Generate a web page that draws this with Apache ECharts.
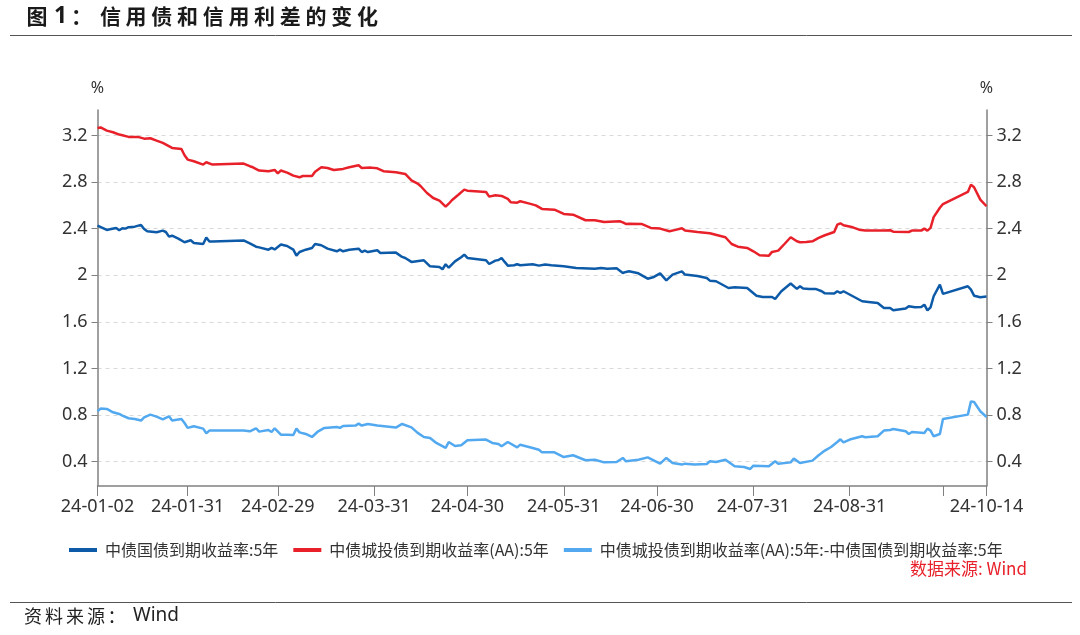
<!DOCTYPE html>
<html><head><meta charset="utf-8">
<script src="https://cdn.jsdelivr.net/npm/echarts@6/dist/echarts.min.js"></script>
<style>html,body{margin:0;padding:0;background:#fff}#c{width:1080px;height:635px}</style>
</head><body><div id="c"></div>
<script>
const year = 2024;
const seriesNames = ['中债国债到期收益率:5年', '中债城投债到期收益率(AA):5年', '中债城投债到期收益率(AA):5年:-中债国债到期收益率:5年'];

const govDates = ['01-02','01-05','01-06','01-08','01-09','01-10','01-11','01-12','01-14','01-16','01-17','01-18','01-21','01-23','01-24','01-25','01-26','01-28','01-30','02-01','02-02','02-05','02-06','02-07','02-08','02-18','02-20','02-22','02-23','02-26','02-27','02-28','03-01','03-03','03-05','03-06','03-07','03-09','03-11','03-12','03-14','03-16','03-19','03-20','03-21','03-23','03-26','03-27','03-28','03-29','04-01','04-02','04-07','04-09','04-10','04-12','04-16','04-18','04-21','04-22','04-23','04-24','04-26','04-28','04-29','04-30','05-06','05-07','05-09','05-10','05-11','05-12','05-13','05-15','05-16','05-17','05-21','05-23','05-25','05-27','05-31','06-04','06-10','06-12','06-14','06-17','06-19','06-20','06-21','06-24','06-27','06-29','07-01','07-03','07-05','07-08','07-09','07-13','07-16','07-17','07-19','07-23','07-25','07-29','08-01','08-03','08-06','08-07','08-09','08-12','08-14','08-15','08-16','08-18','08-20','08-22','08-23','08-26','08-27','08-28','08-29','09-01','09-04','09-06','09-09','09-11','09-13','09-14','09-18','09-19','09-21','09-23','09-24','09-25','09-26','09-27','09-29','09-30','10-08','10-09','10-10','10-12','10-14'];
const govValues = [2.427,2.39,2.395,2.407,2.387,2.404,2.401,2.413,2.418,2.433,2.398,2.378,2.37,2.384,2.372,2.332,2.34,2.315,2.284,2.301,2.278,2.269,2.324,2.29,2.29,2.30,2.275,2.246,2.24,2.22,2.235,2.222,2.264,2.252,2.22,2.169,2.2,2.22,2.235,2.269,2.258,2.229,2.206,2.22,2.206,2.22,2.229,2.2,2.212,2.2,2.215,2.192,2.195,2.158,2.149,2.115,2.129,2.077,2.072,2.052,2.095,2.065,2.12,2.155,2.178,2.149,2.129,2.097,2.126,2.132,2.149,2.115,2.083,2.086,2.095,2.086,2.095,2.083,2.092,2.086,2.077,2.063,2.057,2.063,2.057,2.06,2.02,2.029,2.034,2.017,1.971,1.986,2.017,1.957,2.006,2.034,2.006,1.994,1.977,1.954,1.949,1.891,1.897,1.891,1.825,1.814,1.814,1.797,1.863,1.929,1.883,1.906,1.886,1.883,1.883,1.863,1.845,1.843,1.863,1.848,1.863,1.82,1.777,1.771,1.762,1.719,1.719,1.699,1.714,1.734,1.725,1.728,1.748,1.699,1.725,1.82,1.92,1.84,1.906,1.877,1.825,1.811,1.817];

const cityDates = ['01-02','01-03','01-05','01-07','01-09','01-10','01-12','01-15','01-17','01-19','01-21','01-23','01-26','01-29','01-30','01-31','02-02','02-05','02-06','02-08','02-18','02-20','02-21','02-23','02-26','02-28','02-29','03-01','03-03','03-05','03-07','03-08','03-11','03-12','03-14','03-16','03-18','03-21','03-23','03-26','03-27','03-30','04-01','04-03','04-07','04-10','04-12','04-14','04-15','04-17','04-19','04-21','04-23','04-24','04-25','04-27','04-29','04-30','05-06','05-07','05-09','05-11','05-13','05-14','05-16','05-17','05-20','05-22','05-24','05-28','05-31','06-03','06-07','06-10','06-13','06-18','06-19','06-20','06-21','06-25','06-28','07-01','07-04','07-06','07-08','07-09','07-13','07-17','07-22','07-24','07-26','07-29','07-31','08-02','08-05','08-06','08-08','08-10','08-12','08-14','08-15','08-17','08-19','08-21','08-23','08-26','08-27','08-28','08-29','09-01','09-03','09-05','09-11','09-13','09-14','09-19','09-20','09-23','09-24','09-25','09-26','09-27','09-29','09-30','10-08','10-09','10-10','10-12','10-14'];
const cityValues = [3.266,3.27,3.243,3.229,3.209,3.203,3.189,3.189,3.174,3.177,3.157,3.137,3.094,3.085,3.031,2.994,2.98,2.951,2.971,2.951,2.96,2.937,2.928,2.90,2.894,2.905,2.876,2.90,2.882,2.856,2.842,2.853,2.853,2.89,2.928,2.922,2.905,2.914,2.928,2.945,2.922,2.925,2.919,2.894,2.885,2.871,2.816,2.788,2.765,2.707,2.664,2.642,2.59,2.615,2.645,2.69,2.736,2.727,2.716,2.676,2.687,2.682,2.656,2.627,2.624,2.636,2.616,2.601,2.57,2.564,2.527,2.521,2.473,2.473,2.458,2.464,2.455,2.441,2.443,2.441,2.407,2.401,2.378,2.39,2.404,2.384,2.372,2.361,2.327,2.269,2.246,2.235,2.206,2.172,2.169,2.201,2.212,2.269,2.327,2.292,2.284,2.287,2.292,2.321,2.344,2.372,2.435,2.447,2.43,2.412,2.392,2.384,2.384,2.387,2.375,2.372,2.384,2.384,2.401,2.384,2.407,2.50,2.58,2.612,2.716,2.779,2.756,2.65,2.593];

const spreadDates = ['01-02','01-03','01-05','01-07','01-09','01-10','01-12','01-14','01-16','01-17','01-19','01-21','01-23','01-25','01-26','01-29','01-30','01-31','02-02','02-05','02-06','02-07','02-08','02-18','02-20','02-22','02-23','02-26','02-27','02-28','03-01','03-03','03-05','03-06','03-07','03-09','03-11','03-13','03-15','03-19','03-20','03-21','03-25','03-26','03-27','03-29','04-01','04-07','04-09','04-12','04-14','04-16','04-18','04-20','04-23','04-24','04-26','04-28','04-30','05-06','05-08','05-10','05-11','05-13','05-16','05-17','05-21','05-23','05-24','05-28','05-31','06-03','06-07','06-10','06-13','06-17','06-19','06-20','06-24','06-27','07-01','07-03','07-05','07-08','07-09','07-12','07-16','07-17','07-19','07-22','07-25','07-28','07-30','07-31','08-05','08-07','08-08','08-12','08-13','08-15','08-19','08-21','08-23','08-25','08-27','08-28','08-29','08-31','09-04','09-05','09-09','09-11','09-13','09-14','09-18','09-19','09-20','09-24','09-25','09-26','09-27','09-29','09-30','10-08','10-09','10-10','10-12','10-14'];
const spreadValues = [0.832,0.855,0.852,0.823,0.809,0.795,0.772,0.766,0.752,0.78,0.803,0.786,0.763,0.789,0.752,0.766,0.731,0.689,0.703,0.683,0.643,0.666,0.666,0.666,0.66,0.686,0.657,0.671,0.654,0.686,0.631,0.631,0.628,0.683,0.651,0.637,0.611,0.66,0.689,0.697,0.689,0.706,0.709,0.726,0.709,0.723,0.709,0.692,0.723,0.694,0.646,0.611,0.603,0.56,0.517,0.568,0.534,0.54,0.583,0.589,0.56,0.551,0.531,0.568,0.522,0.545,0.517,0.502,0.479,0.479,0.439,0.454,0.411,0.416,0.393,0.396,0.431,0.402,0.416,0.436,0.382,0.431,0.388,0.374,0.382,0.374,0.379,0.402,0.396,0.416,0.359,0.353,0.336,0.365,0.359,0.402,0.382,0.393,0.425,0.388,0.408,0.454,0.494,0.525,0.568,0.591,0.565,0.589,0.617,0.609,0.617,0.666,0.671,0.68,0.66,0.637,0.654,0.646,0.683,0.666,0.617,0.637,0.766,0.803,0.917,0.912,0.832,0.783];

const xTickDates = ['01-02','01-31','02-29','03-31','04-30','05-31','06-30','07-31','08-31','09-30','10-14'];
const xLabelDates = ['01-02','01-31','02-29','03-31','04-30','05-31','06-30','07-31','08-31','10-14'];
const yTicks = [0.4, 0.8, 1.2, 1.6, 2, 2.4, 2.8, 3.2];
const yMin = 0.19, yMax = 3.42;

const titleText = '图 1：信用债和信用利差的变化';
const footerText = '资料来源：';
const sourceNote = '数据来源: Wind';

const colors = ['#0d5ba8', '#e8202a', '#52a9f0'];
const ts = md => { const p = md.split('-'); return Date.UTC(year, +p[0] - 1, +p[1]); };
const pairs = (ds, vs) => ds.map((d, i) => [ts(d), vs[i]]);
const pad = n => (n < 10 ? '0' : '') + n;
const fmtDate = v => { const d = new Date(v); return String(d.getUTCFullYear()).slice(2) + '-' + pad(d.getUTCMonth() + 1) + '-' + pad(d.getUTCDate()); };

const cjk = '"Noto Sans CJK SC", "Noto Sans", sans-serif';
const latin = '"Noto Sans", "Noto Sans CJK SC", sans-serif';

const titleChars = titleText.replace(' ', '').split('');
const titleCenters = [37, 60.5, 81.5];
for (let i = 0; i < titleChars.length - 3; i++) titleCenters.push(110.4 + i * 25.7);
const titleGraphics = titleChars.map((ch, i) => ({
  type: 'text', x: titleCenters[i], y: 16.5,
  style: { text: ch, font: (i === 1 ? 'bold 23px ' + latin : 'bold 21px ' + cjk), fill: '#1a1a1a', textAlign: 'center', textVerticalAlign: 'middle' }
}));
const footChars = footerText.split('');
const footCenters = [33, 54, 75, 96, 116.5];
const footGraphics = footChars.map((ch, i) => ({
  type: 'text', x: footCenters[i], y: 616,
  style: { text: ch, font: '18px ' + cjk, fill: '#222', textAlign: 'center', textVerticalAlign: 'middle' }
}));
footGraphics.push({ type: 'text', x: 133, y: 616, style: { text: 'Wind', font: '19px ' + latin, fill: '#222', textAlign: 'left', textVerticalAlign: 'middle' } });

const axisGray = '#808080';
const yAxisBase = (pos) => ({
  type: 'value', position: pos, min: yMin, max: yMax,
  name: '%', nameLocation: 'end', nameGap: 14,
  nameTextStyle: { fontSize: 16, color: '#333', fontFamily: latin },
  axisLine: { show: true, lineStyle: { color: axisGray, width: 1.5 } },
  axisTick: { show: true, length: 6, customValues: yTicks, lineStyle: { color: axisGray } },
  axisLabel: { customValues: yTicks, fontSize: 18, color: '#333', fontFamily: latin, margin: 10 },
  splitLine: { show: pos === 'left', lineStyle: { color: '#d9d9d9', type: [4, 4], width: 1 } }
});

const chart = echarts.init(document.getElementById('c'), null, { renderer: 'canvas' });
chart.setOption({
  animation: false,
  backgroundColor: '#fff',
  grid: { left: 97.5, right: 93.5, top: 110, bottom: 149, containLabel: false, outerBoundsMode: 'none' },
  legend: {
    data: seriesNames, left: 64, top: 537, itemGap: 15, itemWidth: 28, itemHeight: 4, icon: 'rect',
    textStyle: { fontSize: 16, color: '#333', fontFamily: cjk, padding: [0, 0, 0, 3] }
  },
  xAxis: {
    type: 'value', min: ts(xTickDates[0]), max: ts(xTickDates[xTickDates.length - 1]),
    axisLine: { show: true, lineStyle: { color: axisGray, width: 1.5 } },
    axisTick: { show: true, length: 10, customValues: xTickDates.map(ts), lineStyle: { color: axisGray } },
    axisLabel: { customValues: xLabelDates.map(ts), formatter: v => fmtDate(v), fontSize: 18, color: '#333', fontFamily: latin, margin: 12, showMinLabel: true, showMaxLabel: true },
    splitLine: { show: false }
  },
  yAxis: [yAxisBase('left'), yAxisBase('right')],
  series: [
    { name: seriesNames[0], type: 'line', data: pairs(govDates, govValues), showSymbol: false, symbol: 'none', lineStyle: { width: 2.5, color: colors[0] }, itemStyle: { color: colors[0] } },
    { name: seriesNames[1], type: 'line', data: pairs(cityDates, cityValues), showSymbol: false, symbol: 'none', lineStyle: { width: 2.5, color: colors[1] }, itemStyle: { color: colors[1] } },
    { name: seriesNames[2], type: 'line', data: pairs(spreadDates, spreadValues), showSymbol: false, symbol: 'none', lineStyle: { width: 2.5, color: colors[2] }, itemStyle: { color: colors[2] } }
  ],
  graphic: [
    ...titleGraphics,
    { type: 'line', shape: { x1: 10, y1: 35.5, x2: 1072, y2: 35.5 }, style: { stroke: '#555', lineWidth: 1 } },
    { type: 'text', x: 1027, y: 569, style: { text: sourceNote, font: '17px ' + cjk, fill: '#e8202a', textAlign: 'right', textVerticalAlign: 'middle' } },
    { type: 'line', shape: { x1: 10, y1: 602.5, x2: 1072, y2: 602.5 }, style: { stroke: '#555', lineWidth: 1 } },
    ...footGraphics
  ]
});
</script></body></html>
